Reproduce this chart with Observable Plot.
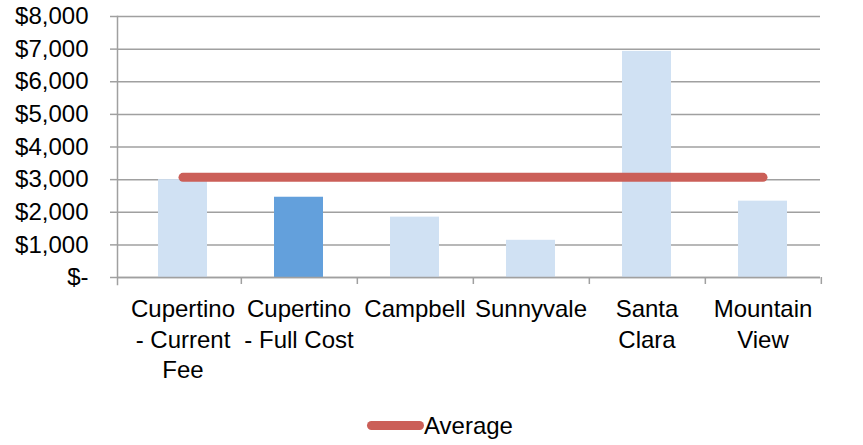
<!DOCTYPE html>
<html>
<head>
<meta charset="utf-8">
<script src="https://cdn.jsdelivr.net/npm/d3@7"></script>
<script src="https://cdn.jsdelivr.net/npm/@observablehq/plot@0.6"></script>
<style>
  html, body { margin: 0; padding: 0; background: #fff; }
  body { font-family: "Liberation Sans", Arial, sans-serif; width: 863px; height: 445px; overflow: hidden; }
  #legend { position: relative; height: 50px; font-size: 24px; color: #000; }
  #legend .swatch { position: absolute; left: 367px; top: 26px; width: 57px; height: 9px; border-radius: 5px; background: #cb5f58; }
  #legend .label { position: absolute; left: 424px; top: 17px; line-height: 28px; }
</style>
</head>
<body>
<div id="chart"></div>
<div id="legend"><span class="swatch"></span><span class="label">Average</span></div>
<script>
const categories = ["Cupertino - Current Fee", "Cupertino - Full Cost", "Campbell", "Sunnyvale", "Santa Clara", "Mountain View"];
const tickLabels = ["Cupertino\n- Current\nFee", "Cupertino\n- Full Cost", "Campbell", "Sunnyvale", "Santa\nClara", "Mountain\nView"];
const costs = [3000, 2460, 1850, 1140, 6930, 2340];
const average = [3070, 3070, 3070, 3070, 3070, 3070];
const highlighted = [false, true, false, false, false, false];
const yTicks = [0, 1000, 2000, 3000, 4000, 5000, 6000, 7000, 8000];

const data = categories.map((c, i) => ({category: c, cost: costs[i], avg: average[i], hi: highlighted[i]}));
const labelOf = new Map(categories.map((c, i) => [c, tickLabels[i]]));

const width = 863, height = 395;
const marginLeft = 117, marginRight = 43, marginTop = 16, marginBottom = 118;
const xRange = [122, 822];
const step = (xRange[1] - xRange[0]) / categories.length;
const plotH = height - marginTop - marginBottom;
const gray = "#a0a0a0";

const chart = Plot.plot({
  width, height, marginLeft, marginRight, marginTop, marginBottom,
  style: {fontFamily: "'Liberation Sans', Arial, sans-serif", fontSize: "24px", color: "#000", background: "#fff"},
  x: {domain: categories, range: xRange, paddingInner: 0.58, paddingOuter: 0.29},
  y: {domain: [0, 8000]},
  marks: [
    Plot.gridY(yTicks, {stroke: gray, strokeOpacity: 1, strokeWidth: 1.5, x1: null}),
    Plot.axisY(yTicks, {
      tickSize: 7, tickPadding: 22, stroke: gray, strokeWidth: 1.5,
      tickFormat: d => d === 0 ? "$-" : "$" + d3.format(",")(d),
      fontSize: 24, label: null
    }),
    Plot.barY(data, {x: "category", y: "cost", fill: d => d.hi ? "#63a0dc" : "#d0e1f3"}),
    Plot.ruleY([0], {stroke: gray, strokeWidth: 1.5}),
    Plot.frame({anchor: "left", stroke: gray, strokeWidth: 1.5, insetBottom: -7}),
    Plot.ruleX(categories, {dx: step / 2, stroke: gray, strokeWidth: 1.5, insetTop: plotH, insetBottom: -7}),
    Plot.lineY(data, {x: "category", y: "avg", stroke: "#cb5f58", strokeWidth: 9, strokeLinecap: "round"}),
    Plot.axisX({
      tickSize: 0, tickPadding: 18, label: null, fontSize: 24, lineHeight: 1.27,
      tickFormat: d => labelOf.get(d)
    })
  ]
});
document.getElementById("chart").appendChild(chart);
</script>
</body>
</html>
